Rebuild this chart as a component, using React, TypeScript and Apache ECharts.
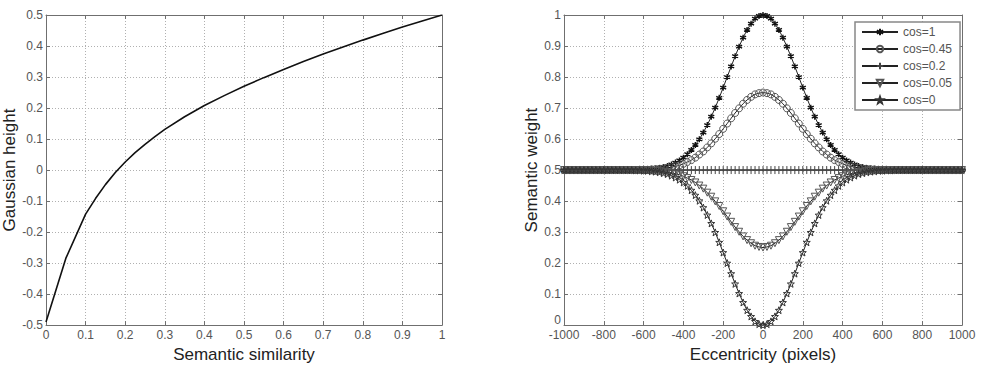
import React, { useEffect, useRef } from "react";
import * as echarts from "echarts";

// ---- Left panel: Gaussian height vs semantic similarity ----
const SIM = [0, 0.05, 0.1, 0.125, 0.15, 0.175, 0.2, 0.225, 0.25, 0.275, 0.3, 0.35, 0.4, 0.45, 0.5, 0.55, 0.6, 0.65, 0.7, 0.75, 0.8, 0.85, 0.9, 0.95, 1];
const HEIGHT = [-0.49, -0.285, -0.142, -0.092, -0.047, -0.008, 0.026, 0.056, 0.083, 0.108, 0.131, 0.172, 0.208, 0.24, 0.27, 0.298, 0.324, 0.35, 0.374, 0.397, 0.419, 0.44, 0.461, 0.481, 0.5];

// ---- Right panel: semantic weight vs eccentricity ----
const ECC = [
  -1000, -980, -960, -940, -920, -900, -880, -860, -840, -820,
  -800, -780, -760, -740, -720, -700, -680, -660, -640, -620,
  -600, -580, -560, -540, -520, -500, -480, -460, -440, -420,
  -400, -380, -360, -340, -320, -300, -280, -260, -240, -220,
  -200, -180, -160, -140, -120, -100, -80, -60, -40, -20,
  0,
  20, 40, 60, 80, 100, 120, 140, 160, 180, 200,
  220, 240, 260, 280, 300, 320, 340, 360, 380, 400,
  420, 440, 460, 480, 500, 520, 540, 560, 580, 600,
  620, 640, 660, 680, 700, 720, 740, 760, 780, 800,
  820, 840, 860, 880, 900, 920, 940, 960, 980, 1000,
];

const W_COS1 = [
  0.5, 0.5, 0.5, 0.5, 0.5, 0.5, 0.5, 0.5, 0.5, 0.5,
  0.5, 0.5, 0.5, 0.5, 0.5, 0.5, 0.5, 0.5, 0.501, 0.501,
  0.502, 0.502, 0.504, 0.505, 0.507, 0.51, 0.513, 0.518, 0.524, 0.531,
  0.54, 0.551, 0.565, 0.581, 0.599, 0.621, 0.645, 0.672, 0.701, 0.733,
  0.766, 0.8, 0.834, 0.867, 0.898, 0.927, 0.952, 0.972, 0.988, 0.997,
  1.0,
  0.997, 0.988, 0.972, 0.952, 0.927, 0.898, 0.867, 0.834, 0.8, 0.766,
  0.733, 0.701, 0.672, 0.645, 0.621, 0.599, 0.581, 0.565, 0.551, 0.54,
  0.531, 0.524, 0.518, 0.513, 0.51, 0.507, 0.505, 0.504, 0.502, 0.502,
  0.501, 0.501, 0.5, 0.5, 0.5, 0.5, 0.5, 0.5, 0.5, 0.5,
  0.5, 0.5, 0.5, 0.5, 0.5, 0.5, 0.5, 0.5, 0.5, 0.5,
];

const W_COS045 = [
  0.5, 0.5, 0.5, 0.5, 0.5, 0.5, 0.5, 0.5, 0.5, 0.5,
  0.5, 0.5, 0.5, 0.5, 0.5, 0.5, 0.5, 0.5, 0.5, 0.501,
  0.501, 0.501, 0.502, 0.503, 0.504, 0.505, 0.507, 0.509, 0.512, 0.515,
  0.52, 0.526, 0.532, 0.54, 0.55, 0.56, 0.573, 0.586, 0.601, 0.616,
  0.633, 0.65, 0.667, 0.684, 0.699, 0.714, 0.726, 0.736, 0.744, 0.748,
  0.75,
  0.748, 0.744, 0.736, 0.726, 0.714, 0.699, 0.684, 0.667, 0.65, 0.633,
  0.616, 0.601, 0.586, 0.573, 0.56, 0.55, 0.54, 0.532, 0.526, 0.52,
  0.515, 0.512, 0.509, 0.507, 0.505, 0.504, 0.503, 0.502, 0.501, 0.501,
  0.501, 0.5, 0.5, 0.5, 0.5, 0.5, 0.5, 0.5, 0.5, 0.5,
  0.5, 0.5, 0.5, 0.5, 0.5, 0.5, 0.5, 0.5, 0.5, 0.5,
];

const W_COS02 = [
  0.5, 0.5, 0.5, 0.5, 0.5, 0.5, 0.5, 0.5, 0.5, 0.5,
  0.5, 0.5, 0.5, 0.5, 0.5, 0.5, 0.5, 0.5, 0.5, 0.5,
  0.5, 0.5, 0.5, 0.5, 0.5, 0.5, 0.5, 0.5, 0.5, 0.5,
  0.5, 0.5, 0.5, 0.5, 0.5, 0.5, 0.5, 0.5, 0.5, 0.5,
  0.5, 0.5, 0.5, 0.5, 0.5, 0.5, 0.5, 0.5, 0.5, 0.5,
  0.5,
  0.5, 0.5, 0.5, 0.5, 0.5, 0.5, 0.5, 0.5, 0.5, 0.5,
  0.5, 0.5, 0.5, 0.5, 0.5, 0.5, 0.5, 0.5, 0.5, 0.5,
  0.5, 0.5, 0.5, 0.5, 0.5, 0.5, 0.5, 0.5, 0.5, 0.5,
  0.5, 0.5, 0.5, 0.5, 0.5, 0.5, 0.5, 0.5, 0.5, 0.5,
  0.5, 0.5, 0.5, 0.5, 0.5, 0.5, 0.5, 0.5, 0.5, 0.5,
];

const W_COS005 = [
  0.5, 0.5, 0.5, 0.5, 0.5, 0.5, 0.5, 0.5, 0.5, 0.5,
  0.5, 0.5, 0.5, 0.5, 0.5, 0.5, 0.5, 0.5, 0.5, 0.499,
  0.499, 0.499, 0.498, 0.497, 0.496, 0.495, 0.493, 0.491, 0.488, 0.485,
  0.48, 0.474, 0.468, 0.46, 0.45, 0.44, 0.427, 0.414, 0.399, 0.384,
  0.367, 0.35, 0.333, 0.316, 0.301, 0.286, 0.274, 0.264, 0.256, 0.252,
  0.25,
  0.252, 0.256, 0.264, 0.274, 0.286, 0.301, 0.316, 0.333, 0.35, 0.367,
  0.384, 0.399, 0.414, 0.427, 0.44, 0.45, 0.46, 0.468, 0.474, 0.48,
  0.485, 0.488, 0.491, 0.493, 0.495, 0.496, 0.497, 0.498, 0.499, 0.499,
  0.499, 0.5, 0.5, 0.5, 0.5, 0.5, 0.5, 0.5, 0.5, 0.5,
  0.5, 0.5, 0.5, 0.5, 0.5, 0.5, 0.5, 0.5, 0.5, 0.5,
];

const W_COS0 = [
  0.5, 0.5, 0.5, 0.5, 0.5, 0.5, 0.5, 0.5, 0.5, 0.5,
  0.5, 0.5, 0.5, 0.5, 0.5, 0.5, 0.5, 0.5, 0.499, 0.499,
  0.498, 0.498, 0.496, 0.495, 0.493, 0.49, 0.487, 0.482, 0.476, 0.469,
  0.46, 0.449, 0.435, 0.419, 0.401, 0.379, 0.355, 0.328, 0.299, 0.267,
  0.234, 0.2, 0.166, 0.133, 0.102, 0.073, 0.048, 0.028, 0.012, 0.003,
  0.0,
  0.003, 0.012, 0.028, 0.048, 0.073, 0.102, 0.133, 0.166, 0.2, 0.234,
  0.267, 0.299, 0.328, 0.355, 0.379, 0.401, 0.419, 0.435, 0.449, 0.46,
  0.469, 0.476, 0.482, 0.487, 0.49, 0.493, 0.495, 0.496, 0.498, 0.498,
  0.499, 0.499, 0.5, 0.5, 0.5, 0.5, 0.5, 0.5, 0.5, 0.5,
  0.5, 0.5, 0.5, 0.5, 0.5, 0.5, 0.5, 0.5, 0.5, 0.5,
];

const SERIES_NAMES = ["cos=1", "cos=0.45", "cos=0.2", "cos=0.05", "cos=0"];

const FONT = "'Liberation Sans', Arial, Helvetica, sans-serif";
const AXIS_COLOR = "#6f6f6f";
const LABEL_COLOR = "#555";
const GRID_COLOR = "#b0b0b0";

const ASTERISK = "path://M5,0L5,10M0.67,2.5L9.33,7.5M0.67,7.5L9.33,2.5";
const PLUS = "path://M5,0L5,10M2,5L8,5";
const PENTAGRAM = "path://M5,0L6.2,3.4L9.8,3.5L7,5.7L8,9.2L5,7.1L2,9.2L3,5.7L0.2,3.5L3.8,3.4Z";

const plainNumber = (v: number) => String(Math.round(v * 1000) / 1000);
// bottom label of the right y axis sits a little higher, clear of "-1000"
const raisedZero = (v: number) => (v === 0 ? "{lo|0}" : plainNumber(v));

function mainX(gridIndex: number, min: number, max: number, interval: number, name: string) {
  return {
    type: "value",
    gridIndex,
    min,
    max,
    interval,
    position: "bottom",
    name,
    nameLocation: "middle",
    nameGap: 20,
    nameTextStyle: { fontSize: 17, color: "#222", fontFamily: FONT, verticalAlign: "top" },
    axisLine: { show: true, onZero: false, lineStyle: { color: AXIS_COLOR, width: 1 } },
    axisTick: { show: true, inside: true, length: 4, lineStyle: { color: AXIS_COLOR } },
    axisLabel: { color: LABEL_COLOR, fontSize: 12, margin: 4, fontFamily: FONT, formatter: plainNumber },
    splitLine: { show: true, lineStyle: { color: GRID_COLOR, type: [1, 2], width: 1 } },
  };
}

function frameX(gridIndex: number, min: number, max: number, interval: number) {
  return {
    type: "value",
    gridIndex,
    min,
    max,
    interval,
    position: "top",
    axisLine: { show: true, onZero: false, lineStyle: { color: AXIS_COLOR, width: 1 } },
    axisTick: { show: true, inside: true, length: 4, lineStyle: { color: AXIS_COLOR } },
    axisLabel: { show: false },
    splitLine: { show: false },
  };
}

function mainY(gridIndex: number, min: number, max: number, interval: number, name: string, nameGap: number, formatter: any) {
  return {
    type: "value",
    gridIndex,
    min,
    max,
    interval,
    position: "left",
    name,
    nameLocation: "middle",
    nameGap,
    nameTextStyle: { fontSize: 17, color: "#222", fontFamily: FONT },
    axisLine: { show: true, onZero: false, lineStyle: { color: AXIS_COLOR, width: 1 } },
    axisTick: { show: true, inside: true, length: 4, lineStyle: { color: AXIS_COLOR } },
    axisLabel: {
      color: LABEL_COLOR,
      fontSize: 12,
      margin: 3,
      fontFamily: FONT,
      formatter,
      rich: { lo: { fontSize: 12, color: LABEL_COLOR, fontFamily: FONT, padding: [0, 0, 10, 0] } },
    },
    splitLine: { show: true, lineStyle: { color: GRID_COLOR, type: [1, 2], width: 1 } },
  };
}

function frameY(gridIndex: number, min: number, max: number, interval: number) {
  return {
    type: "value",
    gridIndex,
    min,
    max,
    interval,
    position: "right",
    axisLine: { show: true, onZero: false, lineStyle: { color: AXIS_COLOR, width: 1 } },
    axisTick: { show: true, inside: true, length: 4, lineStyle: { color: AXIS_COLOR } },
    axisLabel: { show: false },
    splitLine: { show: false },
  };
}

function weightSeries(name: string, values: number[], marker: any) {
  return {
    name,
    type: "line",
    xAxisIndex: 2,
    yAxisIndex: 2,
    data: ECC.map((x, i) => [x, values[i]]),
    showAllSymbol: true,
    smooth: false,
    lineStyle: { color: "#222", width: 1 },
    emphasis: { disabled: true },
    ...marker,
  };
}

export default function App() {
  const ref = useRef<HTMLDivElement>(null);

  useEffect(() => {
    if (!ref.current) return;
    const chart = echarts.init(ref.current, undefined, { renderer: "svg" });
    chart.setOption({
      animation: false,
      backgroundColor: "#fff",
      textStyle: { fontFamily: FONT },
      grid: [
        { left: 45, top: 15, width: 397, height: 311 },
        { left: 564, top: 15, width: 398, height: 311 },
      ],
      xAxis: [
        mainX(0, 0, 1, 0.1, "Semantic similarity"),
        frameX(0, 0, 1, 0.1),
        mainX(1, -1000, 1000, 200, "Eccentricity (pixels)"),
        frameX(1, -1000, 1000, 200),
      ],
      yAxis: [
        mainY(0, -0.5, 0.5, 0.1, "Gaussian height", 28, plainNumber),
        frameY(0, -0.5, 0.5, 0.1),
        mainY(1, 0, 1, 0.1, "Semantic weight", 24, raisedZero),
        frameY(1, 0, 1, 0.1),
      ],
      legend: {
        data: SERIES_NAMES,
        orient: "vertical",
        left: 855,
        top: 22,
        itemWidth: 36,
        itemHeight: 8,
        itemGap: 5,
        padding: [4, 8, 4, 6],
        borderColor: "#888",
        borderWidth: 1.5,
        borderRadius: 0,
        backgroundColor: "#fff",
        selectedMode: false,
        textStyle: { fontSize: 12, color: LABEL_COLOR, lineHeight: 12, fontFamily: FONT },
      },
      series: [
        {
          name: "height",
          type: "line",
          xAxisIndex: 0,
          yAxisIndex: 0,
          data: SIM.map((x, i) => [x, HEIGHT[i]]),
          symbol: "none",
          smooth: false,
          lineStyle: { color: "#111", width: 1.6 },
          emphasis: { disabled: true },
        },
        weightSeries(SERIES_NAMES[0], W_COS1, {
          symbol: ASTERISK,
          symbolSize: 6,
          itemStyle: { color: "#111", borderColor: "#111", borderWidth: 1.4 },
        }),
        weightSeries(SERIES_NAMES[1], W_COS045, {
          symbol: "circle",
          symbolSize: 7,
          itemStyle: { color: "transparent", borderColor: "#555", borderWidth: 1 },
        }),
        weightSeries(SERIES_NAMES[2], W_COS02, {
          symbol: PLUS,
          symbolSize: 8,
          itemStyle: { color: "transparent", borderColor: "#444", borderWidth: 1 },
        }),
        weightSeries(SERIES_NAMES[3], W_COS005, {
          symbol: "triangle",
          symbolRotate: 180,
          symbolSize: 7,
          itemStyle: { color: "transparent", borderColor: "#555", borderWidth: 1 },
        }),
        weightSeries(SERIES_NAMES[4], W_COS0, {
          symbol: PENTAGRAM,
          symbolSize: 7,
          itemStyle: { color: "transparent", borderColor: "#333", borderWidth: 1 },
        }),
      ],
    });
    return () => chart.dispose();
  }, []);

  return (
    <div
      ref={ref}
      style={{ position: "absolute", left: 0, top: 0, width: 981, height: 368, background: "#fff" }}
    />
  );
}
